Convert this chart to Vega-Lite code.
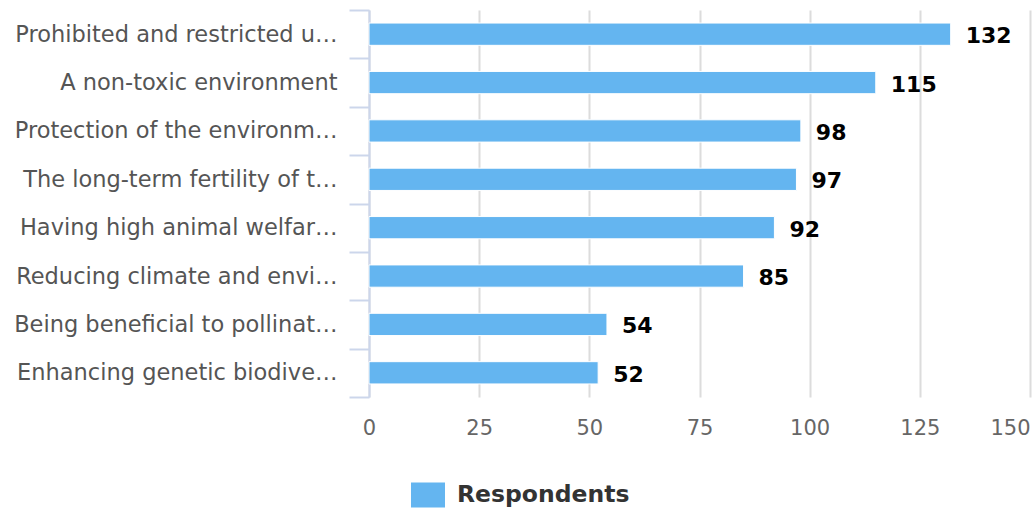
{
  "$schema": "https://vega.github.io/schema/vega-lite/v6.json",
  "width": 661,
  "height": 387,
  "autosize": "none",
  "padding": {"left": 369, "top": 10, "right": 6, "bottom": 115},
  "background": "white",
  "config": {"view": {"stroke": null}, "font": "DejaVu Sans"},
  "data": {
    "values": [
      {"category": "Prohibited and restricted use of pesticides", "value": 132},
      {"category": "A non-toxic environment", "value": 115},
      {"category": "Protection of the environment and biodiversity", "value": 98},
      {"category": "The long-term fertility of the soil", "value": 97},
      {"category": "Having high animal welfare standards", "value": 92},
      {"category": "Reducing climate and environmental impact", "value": 85},
      {"category": "Being beneficial to pollinators", "value": 54},
      {"category": "Enhancing genetic biodiversity", "value": 52}
    ]
  },
  "encoding": {
    "y": {
      "field": "category",
      "type": "nominal",
      "sort": null,
      "title": null,
      "scale": {"paddingInner": 0, "paddingOuter": 0},
      "axis": {
        "domainColor": "#ccd6eb",
        "domainWidth": 2,
        "tickColor": "#ccd6eb",
        "tickWidth": 2,
        "tickSize": 20,
        "tickBand": "extent",
        "labelFontSize": 22.5,
        "labelColor": "#555555",
        "labelLimit": 327,
        "labelPadding": 12
      }
    },
    "x": {
      "field": "value",
      "type": "quantitative",
      "title": null,
      "scale": {"domain": [0, 150], "nice": false},
      "axis": {
        "values": [0, 25, 50, 75, 100, 125, 150],
        "domain": false,
        "ticks": false,
        "grid": true,
        "gridColor": "#dcdcdc",
        "gridWidth": 2,
        "labelFontSize": 21,
        "labelColor": "#666666",
        "labelPadding": 20,
        "labelAlign": {"expr": "datum.value == 150 ? 'right' : 'center'"}
      }
    }
  },
  "layer": [
    {
      "mark": {"type": "bar", "stroke": "white", "strokeWidth": 1, "height": {"band": 0.46}},
      "encoding": {
        "color": {
          "datum": "Respondents",
          "scale": {"range": ["#64b5f0"]},
          "legend": {
            "title": null,
            "orient": "none",
            "legendX": 42,
            "legendY": 468,
            "symbolType": "M-1,-0.74H1V0.74H-1Z",
            "symbolSize": 1156,
            "symbolStrokeWidth": 0,
            "labelFontSize": 23.5,
            "labelFontWeight": "bold",
            "labelColor": "#333333",
            "labelOffset": 12,
            "labelLimit": 400
          }
        }
      }
    },
    {
      "mark": {"type": "text", "align": "left", "baseline": "middle", "dx": 15, "dy": 2, "fontSize": 22, "fontWeight": "bold", "color": "#000000"},
      "encoding": {"text": {"field": "value", "type": "quantitative"}}
    }
  ]
}
